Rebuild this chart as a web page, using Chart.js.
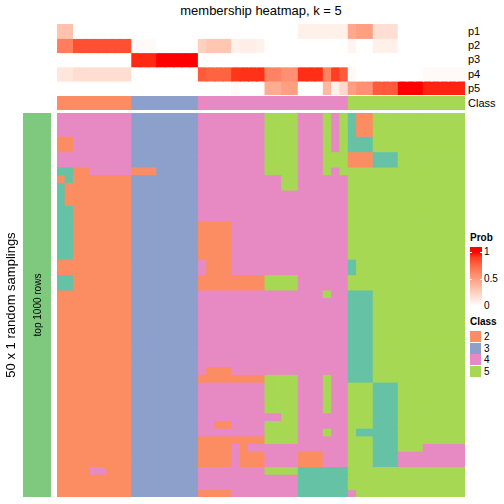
<!DOCTYPE html>
<html><head><meta charset="utf-8">
<script src="https://cdn.jsdelivr.net/npm/chart.js@4/dist/chart.umd.min.js"></script>
<style>
html,body{margin:0;padding:0;background:#fff;}
body{width:504px;height:504px;position:relative;overflow:hidden;font-family:"Liberation Sans",Arial,Helvetica,sans-serif;color:#000;}
.abs{position:absolute;white-space:nowrap;}
canvas{position:absolute;display:block;}
.rl{position:absolute;left:468px;font-size:11px;line-height:14px;}
.lg{position:absolute;font-size:10px;line-height:12px;}
</style></head><body>
<div class="abs" style="left:57px;width:408px;top:3px;text-align:center;font-size:13px;">membership heatmap, k = 5</div>
<canvas id="probChart" width="408" height="71" style="left:57px;top:24px"></canvas>
<canvas id="classChart" width="408" height="14" style="left:57px;top:96px"></canvas>
<canvas id="mainChart" width="408" height="384" style="left:57px;top:113px"></canvas>
<canvas id="leftChart" width="28" height="384" style="left:23px;top:113px"></canvas>
<div id="rowLabels"></div>
<div class="abs" style="left:37px;top:305px;transform:translate(-50%,-50%) rotate(-90deg);font-size:10px;">top 1000 rows</div>
<div class="abs" style="left:10px;top:305px;transform:translate(-50%,-50%) rotate(-90deg);font-size:13px;">50 x 1 random samplings</div>
<div id="legend"></div>
<script>
// ---------------- data ----------------
const probRows = ["p1","p2","p3","p4","p5"];
const p1 = [0.32,0.32,0,0,0,0,0,0,0, 0,0,0,0,0,0,0,0, 0,0,0,0,0,0,0, 0,0,0,0,0, 0.08,0.08,0.08,0.08,0.08,0.08, 0.45,0.5,0.5, 0.17,0.17,0.17, 0,0,0, 0,0,0,0,0];
const p2 = [0.65,0.65,0.84,0.84,0.84,0.84,0.84,0.84,0.84, 0.03,0.03,0.03,0,0,0,0,0, 0.25,0.3,0.3,0.3,0.07,0.09,0.09, 0.07,0,0,0,0, 0,0,0,0,0,0, 0.06,0,0, 0.08,0.08,0.08, 0,0,0, 0,0,0,0,0];
const p3 = [0,0,0,0,0,0,0,0,0, 0.95,0.95,0.95,1,1,1,1,1, 0,0,0,0,0,0,0, 0,0,0,0,0, 0,0,0,0,0,0, 0,0,0, 0,0,0, 0,0,0, 0,0,0,0,0];
const p4 = [0.13,0.13,0.18,0.18,0.18,0.18,0.18,0.18,0.18, 0,0,0,0,0,0,0,0, 0.8,0.77,0.77,0.77,0.92,0.93,0.93, 0.93,0.63,0.63,0.57,0.57, 0.94,0.94,0.94,0.63,0.9,0.8, 0.03,0,0, 0,0,0, 0,0,0, 0.03,0.03,0.03,0.03,0.03];
const p5 = [0,0,0,0,0,0,0,0,0, 0,0,0,0,0,0,0,0, 0,0,0,0,0.03,0,0, 0,0.43,0.43,0.5,0.5, 0,0,0,0.37,0.08,0.2, 0.5,0.57,0.57, 0.8,0.8,0.8, 1,1,1, 0.96,0.96,0.96,0.96,0.96];
const sampleClass = [2,2,2,2,2,2,2,2,2, 3,3,3,3,3,3,3,3, 4,4,4,4,4,4,4,4,4,4,4,4,4,4,4,4,4,4, 5,5,5,5,5,5,5,5,5,5,5,5,5,5];
// 50 random samplings (rows) x 49 samples (columns), class label per cell
const samplings = [
"444444444 33333333 4444444 45555444545 12255555555555",
"444444444 33333333 4444444 45555444545 12255555555555",
"444444444 33333333 4444444 45555444545 12255555555555",
"224444444 33333333 4444444 45555444545 11155555555555",
"224444444 33333333 4444444 45555444545 11155555555555",
"444444444 33333333 4444444 45555444555 22211155555555",
"444444444 33333333 4444444 45555444555 22211155555555",
"112244444 22233333 4444444 45555444545 55555555555555",
"212222222 33333333 4444444 44455444444 55555555555555",
"122222222 33333333 4444444 44455444444 55555555555555",
"122222222 33333333 4444444 44444444444 55555555555555",
"122222222 33333333 4444444 44444444444 55555555555555",
"112222222 33333333 4444444 44444444444 55555555555555",
"112222222 33333333 4444444 44444444444 55555555555555",
"112222222 33333333 2222444 44444444444 55555555555555",
"112222222 33333333 2222444 44444444444 55555555555555",
"112222222 33333333 2222444 44444444444 55555555555555",
"112222222 33333333 2222444 44444444444 55555555555555",
"112222222 33333333 2222444 44444444444 55555555555555",
"222222222 33333333 4222444 44444444444 15555555555555",
"222222222 33333333 4222444 44444444444 15555555555555",
"112222222 33333333 2222222 25555444444 55555555555555",
"112222222 33333333 2222222 25555444444 55555555555555",
"222222222 33333333 4444444 44444444544 11155555555555",
"222222222 33333333 4444444 44444444444 11155555555555",
"222222222 33333333 4444444 44444444444 11155555555555",
"222222222 33333333 4444444 44444444444 11155555555555",
"222222222 33333333 4444444 44444444444 11155555555555",
"222222222 33333333 4444444 44444444444 11155555555555",
"222222222 33333333 4444444 44444444444 11155555555555",
"222222222 33333333 4444444 44444444444 11155555555555",
"222222222 33333333 4444444 44444444444 11155555555555",
"222222222 33333333 4444444 44444444444 11155555555555",
"222222222 33333333 4222444 44444444444 11155555555555",
"222222222 33333333 2222222 25555444544 11155555555555",
"222222222 33333333 4444444 45555444544 55511155555555",
"222222222 33333333 4444444 45555444544 55511155555555",
"222222222 33333333 4444444 45555444544 55511155555555",
"222222222 33333333 4444444 45555444544 55511155555555",
"222222222 33333333 4444444 44455444444 55511155555555",
"222222222 33333333 4422444 45555444444 55511155555555",
"222222222 33333333 4444444 45555444544 51111155555555",
"222222222 33333333 2222222 25555444444 55511155555555",
"222222222 33333333 2222424 44444444444 55511155544444",
"222222222 33333333 2222422 24444222444 55511144444444",
"222222222 33333333 2222422 24444222444 55511144444444",
"222244222 33333333 4444444 45555111111 55555555555555",
"222222222 33333333 4444444 44444111111 55555555555555",
"222222222 33333333 4444444 44444111111 55555555555555",
"222222222 33333333 2222444 44444111111 45555555555555"
];
const classLabels = ["2","3","4","5"];
const probTicks = ["1","0.5","0"];
const leftAnnotation = ["top 1000 rows"];

// ---------------- styles ----------------
const classColors = {1:"#66C2A5",2:"#FC8D62",3:"#8DA0CB",4:"#E78AC3",5:"#A6D854"};
const leftColor = "#7FC97F";

function lin(c){c/=255;return c<=0.04045?c/12.92:Math.pow((c+0.055)/1.055,2.4);}
function gam(c){c=c<=0.0031308?12.92*c:1.055*Math.pow(c,1/2.4)-0.055;return Math.round(Math.max(0,Math.min(1,c))*255);}
function rgb2lab(rgb){const r=lin(rgb[0]),g=lin(rgb[1]),b=lin(rgb[2]);
  let x=(r*0.4124+g*0.3576+b*0.1805)/0.95047,y=(r*0.2126+g*0.7152+b*0.0722),z=(r*0.0193+g*0.1192+b*0.9505)/1.08883;
  const f=t=>t>0.008856?Math.cbrt(t):7.787*t+16/116; x=f(x);y=f(y);z=f(z);
  return [116*y-16,500*(x-y),200*(y-z)];}
function lab2rgb(lab){let y=(lab[0]+16)/116,x=lab[1]/500+y,z=y-lab[2]/200;
  const fi=t=>t*t*t>0.008856?t*t*t:(t-16/116)/7.787; x=fi(x)*0.95047;y=fi(y);z=fi(z)*1.08883;
  return [gam(x*3.2406-y*1.5372-z*0.4986),gam(-x*0.9689+y*1.8758+z*0.0415),gam(x*0.0557-y*0.2040+z*1.0570)];}
const LW=rgb2lab([255,255,255]), LR=rgb2lab([255,0,0]);
function probColor(t){const l=[0,1,2].map(i=>LW[i]+(LR[i]-LW[i])*t);const c=lab2rgb(l);return `rgb(${c[0]},${c[1]},${c[2]})`;}

const columns = sampleClass.map((_,i)=>"s"+(i+1));

function heatmap(id, colorRows, ov){
  const n = colorRows.length;
  const datasets = colorRows.map((cols,r)=>({
    data: cols.map(()=>[r-ov, r+1+ov]),
    backgroundColor: cols,
    borderWidth: 0,
    grouped: false,
    barPercentage: 1.16,
    categoryPercentage: 1
  }));
  return new Chart(document.getElementById(id),{
    type:'bar',
    data:{labels:columns,datasets},
    options:{responsive:false,animation:false,events:[],
      layout:{padding:0},
      plugins:{legend:{display:false},tooltip:{enabled:false},title:{display:false}},
      scales:{x:{display:false,offset:true},y:{display:false,min:0,max:n,reverse:true}}}
  });
}

heatmap('probChart',[p1,p2,p3,p4,p5].map(a=>a.map(probColor)),0.05);
heatmap('classChart',[sampleClass.map(c=>classColors[c])],0.1);
heatmap('mainChart',samplings.map(s=>s.replace(/ /g,'').split('').map(c=>classColors[c])),0.1);

new Chart(document.getElementById('leftChart'),{
  type:'bar',
  data:{labels:leftAnnotation,datasets:[{data:[[0,1]],backgroundColor:leftColor,borderWidth:0,barPercentage:1,categoryPercentage:1}]},
  options:{responsive:false,animation:false,events:[],layout:{padding:0},
    plugins:{legend:{display:false},tooltip:{enabled:false}},
    scales:{x:{display:false},y:{display:false,min:0,max:1}}}
});

// row labels
const rl=document.getElementById('rowLabels');
const labs=probRows.concat(["Class"]);
const tops=[24,38.2,52.4,66.6,80.8,96];
labs.forEach((t,i)=>{const d=document.createElement('div');d.className='rl';d.style.top=tops[i]+'px';d.textContent=t;rl.appendChild(d);});

// legend
const lg=document.getElementById('legend');
function add(html,style){const d=document.createElement('div');d.className='lg';d.style.cssText+=style;d.innerHTML=html;lg.appendChild(d);}
add('<b>Prob</b>','left:470px;top:232px;');
// gradient bar: value 1 at 5px from top, value 0 at 59px from top (63px tall)
const stops=[];
for(let i=0;i<=10;i++){const pos=(5+54*i/10)/63*100;stops.push(probColor(1-i/10)+' '+pos.toFixed(2)+'%');}
add('','left:470px;top:247px;width:12px;height:63px;background:linear-gradient(to bottom,'+stops.join(',')+');');
[252,279].forEach(y=>{
  add('',`left:470px;top:${y-0.5}px;width:2px;height:1px;background:#fff;`);
  add('',`left:480px;top:${y-0.5}px;width:2px;height:1px;background:#fff;`);
});
probTicks.forEach((t,i)=>add(t,`left:484px;top:${246+i*27}px;`));
add('<b>Class</b>','left:470px;top:316px;');
classLabels.forEach((c,i)=>{
  add('',`left:470px;top:${331+i*11.5}px;width:11px;height:11px;background:${classColors[+c]};`);
  add(c,`left:484px;top:${331+i*11.5}px;`);
});
</script>
</body></html>
